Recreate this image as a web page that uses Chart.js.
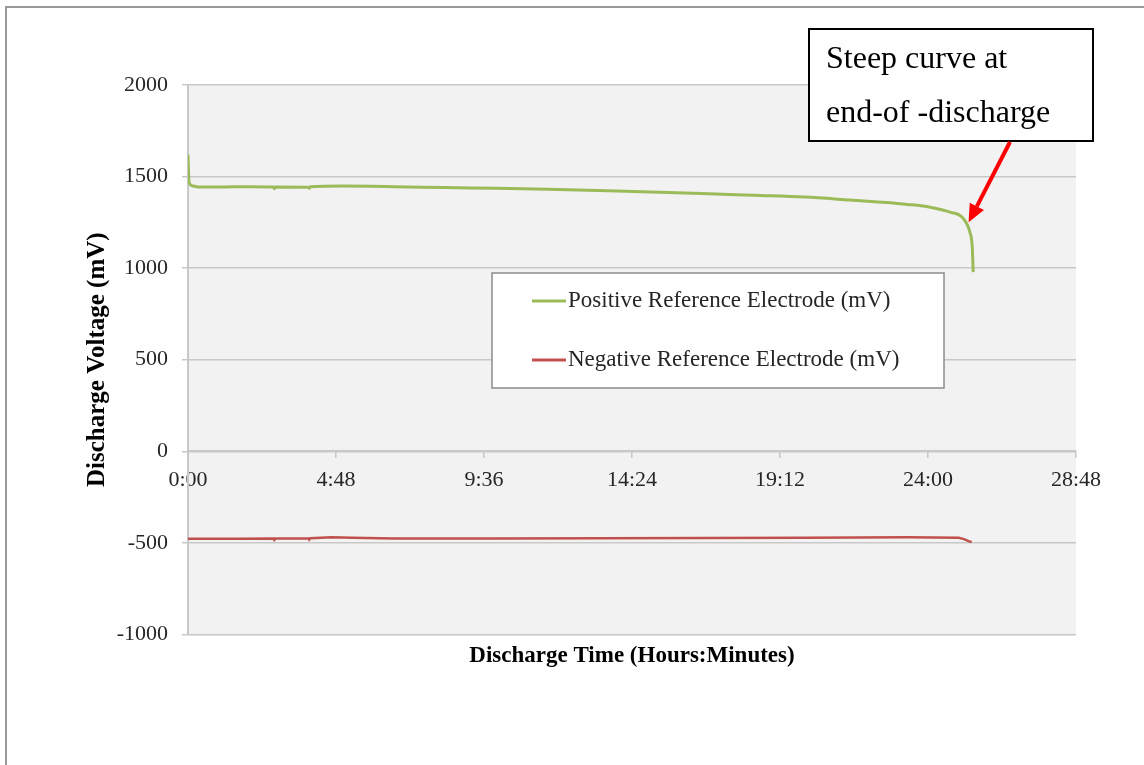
<!DOCTYPE html>
<html>
<head>
<meta charset="utf-8">
<script src="https://cdn.jsdelivr.net/npm/chart.js@4"></script>
<style>
  html, body { margin: 0; padding: 0; background: #fff; }
  #wrap { width: 1144px; height: 765px; }
</style>
</head>
<body>
<div id="wrap"><canvas id="dischargeChart" width="1144" height="765"></canvas></div>
<script>
// discharge time in minutes, voltage in mV
const posTimes = [0, 2, 8, 20, 60, 120, 167, 168, 170, 235, 236, 238, 300, 400, 500, 600, 700, 800, 900, 1000, 1100, 1200, 1288, 1350, 1400, 1444, 1483, 1508, 1522, 1526, 1528];
const posVolts = [1620, 1470, 1450, 1443, 1443, 1445, 1443, 1434, 1443, 1442, 1436, 1444, 1448, 1445, 1440, 1436, 1431, 1424, 1416, 1408, 1398, 1388, 1372, 1360, 1348, 1333, 1306, 1273, 1191, 1120, 978];

const negTimes = [0, 100, 167, 168, 170, 235, 236, 238, 280, 320, 400, 600, 800, 1000, 1200, 1400, 1500, 1510, 1520, 1525];
const negVolts = [-478, -478, -477, -484, -477, -476, -482, -475, -470, -472, -476, -476, -475, -474, -472, -470, -472, -480, -492, -495];

const seriesNames = ["Positive Reference Electrode (mV)", "Negative Reference Electrode (mV)"];
const seriesColors = ["#9bbb59", "#c0504d"];

const xMin = 0, xMax = 1728, xStep = 288;
const yMin = -1000, yMax = 2000, yStep = 500;

const noteLines = ["Steep curve at", "end-of -discharge"];
const arrowTip = { t: 1519, v: 1250 };

const serif = "'Liberation Serif', 'Times New Roman', serif";

function toPoints(times, volts) {
    return times.map((t, i) => ({ x: t, y: volts[i] }));
}

function hhmm(v) {
    let h = Math.floor(v / 60);
    let m = Math.round(v % 60);
    return h + ":" + String(m).padStart(2, "0");
}

const backdrop = {
    id: "backdrop",
    beforeDraw(chart) {
        const ctx = chart.ctx;
        const a = chart.chartArea;
        ctx.save();
        ctx.fillStyle = "#ffffff";
        ctx.fillRect(0, 0, chart.width, chart.height);
        // outer frame (only top and left edges show)
        ctx.strokeStyle = "#999999";
        ctx.lineWidth = 2;
        ctx.beginPath();
        ctx.moveTo(6, chart.height + 5);
        ctx.lineTo(6, 7);
        ctx.lineTo(chart.width + 5, 7);
        ctx.stroke();
        ctx.fillStyle = "#f2f2f2";
        ctx.fillRect(a.left, a.top, a.right - a.left, a.bottom - a.top);
        ctx.restore();
    }
};

const overlay = {
    id: "overlay",
    afterDraw(chart) {
        const ctx = chart.ctx;
        ctx.save();

        // legend box
        ctx.fillStyle = "#ffffff";
        ctx.fillRect(492, 273, 452, 115);
        ctx.strokeStyle = "#8c8c8c";
        ctx.lineWidth = 1.5;
        ctx.strokeRect(492, 273, 452, 115);
        ctx.font = "23px " + serif;
        ctx.textBaseline = "middle";
        ctx.textAlign = "left";
        const rows = [301, 360];
        chart.data.datasets.forEach((ds, i) => {
            ctx.strokeStyle = ds.borderColor;
            ctx.lineWidth = 3;
            ctx.beginPath();
            ctx.moveTo(532, rows[i]);
            ctx.lineTo(566, rows[i]);
            ctx.stroke();
            ctx.fillStyle = "#262626";
            ctx.fillText(ds.label, 568, rows[i]);
        });

        // note box
        ctx.fillStyle = "#ffffff";
        ctx.fillRect(809, 29, 284, 112);
        ctx.strokeStyle = "#000000";
        ctx.lineWidth = 2;
        ctx.strokeRect(809, 29, 284, 112);
        ctx.fillStyle = "#000000";
        ctx.font = "32px " + serif;
        ctx.fillText(noteLines[0], 826, 60);
        ctx.fillText(noteLines[1], 826, 114);

        // red arrow
        const tipX = chart.scales.x.getPixelForValue(arrowTip.t);
        const tipY = chart.scales.y.getPixelForValue(arrowTip.v);
        const tailX = 1010, tailY = 142;
        const ang = Math.atan2(tipY - tailY, tipX - tailX);
        const headLen = 18, headW = 8;
        ctx.strokeStyle = "#ff0000";
        ctx.fillStyle = "#ff0000";
        ctx.lineWidth = 4;
        ctx.beginPath();
        ctx.moveTo(tailX, tailY);
        ctx.lineTo(tipX - Math.cos(ang) * headLen, tipY - Math.sin(ang) * headLen);
        ctx.stroke();
        ctx.beginPath();
        ctx.moveTo(tipX, tipY);
        ctx.lineTo(tipX - Math.cos(ang) * headLen + Math.sin(ang) * headW, tipY - Math.sin(ang) * headLen - Math.cos(ang) * headW);
        ctx.lineTo(tipX - Math.cos(ang) * headLen - Math.sin(ang) * headW, tipY - Math.sin(ang) * headLen + Math.cos(ang) * headW);
        ctx.closePath();
        ctx.fill();

        ctx.restore();
    }
};

new Chart("dischargeChart", {
    type: "line",
    data: {
        datasets: [
            {
                label: seriesNames[0],
                data: toPoints(posTimes, posVolts),
                borderColor: seriesColors[0],
                borderWidth: 3,
                pointRadius: 0,
                cubicInterpolationMode: "monotone"
            },
            {
                label: seriesNames[1],
                data: toPoints(negTimes, negVolts),
                borderColor: seriesColors[1],
                borderWidth: 2.5,
                pointRadius: 0
            }
        ]
    },
    options: {
        responsive: false,
        animation: false,
        events: [],
        layout: {
            padding: { left: 0, top: 85, right: 68, bottom: 95 }
        },
        scales: {
            x: {
                type: "linear",
                position: { y: 0 },
                min: xMin,
                max: xMax,
                ticks: {
                    stepSize: xStep,
                    padding: 10,
                    color: "#262626",
                    font: { family: serif, size: 22 },
                    maxRotation: 0,
                    callback: v => hhmm(v)
                },
                grid: { drawOnChartArea: false, drawTicks: true, tickLength: 6, color: "#c8c8c8", lineWidth: 1.5 },
                border: { color: "#c8c8c8", width: 2 }
            },
            xTitle: {
                type: "linear",
                axis: "x",
                position: "bottom",
                min: xMin,
                max: xMax,
                ticks: { display: false },
                grid: { display: false, drawTicks: false },
                border: { display: false },
                title: {
                    display: true,
                    text: "Discharge Time (Hours:Minutes)",
                    color: "#000000",
                    font: { family: serif, size: 23, weight: "bold" },
                    padding: { top: 8, bottom: 0 }
                }
            },
            y: {
                min: yMin,
                max: yMax,
                afterFit: s => { s.width = 188; },
                ticks: {
                    stepSize: yStep,
                    padding: 14,
                    color: "#262626",
                    font: { family: serif, size: 22 },
                    callback: v => String(v)
                },
                grid: { color: "#c8c8c8", lineWidth: 1.5, tickLength: 6 },
                border: { color: "#c8c8c8", width: 2 },
                title: {
                    display: true,
                    text: "Discharge Voltage (mV)",
                    color: "#000000",
                    font: { family: serif, size: 25, weight: "bold" },
                    padding: { top: 83, bottom: 0 }
                }
            }
        },
        plugins: {
            legend: { display: false },
            tooltip: { enabled: false }
        }
    },
    plugins: [backdrop, overlay]
});
</script>
</body>
</html>
